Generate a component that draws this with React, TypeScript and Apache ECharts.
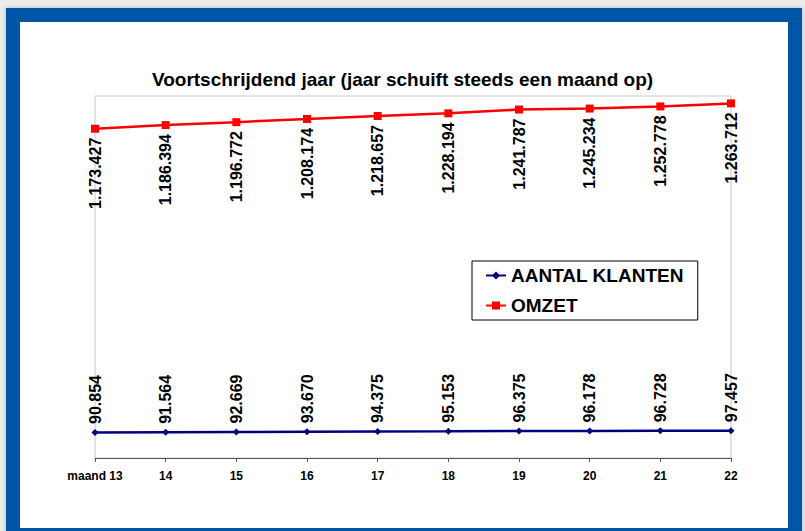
import React, { useEffect, useRef } from "react";
import * as echarts from "echarts";

const categories = ["maand 13", "14", "15", "16", "17", "18", "19", "20", "21", "22"];
const aantalKlanten = [90854, 91564, 92669, 93670, 94375, 95153, 96375, 96178, 96728, 97457];
const omzet = [1173427, 1186394, 1196772, 1208174, 1218657, 1228194, 1241787, 1245234, 1252778, 1263712];
const titleText = "Voortschrijdend jaar (jaar schuift steeds een maand op)";

const fmt = (v: number) => String(v).replace(/\B(?=(\d{3})+(?!\d))/g, ".");
const FONT = "Arial, 'Liberation Sans', sans-serif";

export default function App() {
  const ref = useRef<HTMLDivElement>(null);
  useEffect(() => {
    if (!ref.current) return;
    const chart = echarts.init(ref.current, null, { renderer: "svg" });
    chart.setOption({
      animation: false,
      title: {
        text: titleText,
        left: "center",
        top: 65,
        textStyle: { fontSize: 19, fontWeight: "bold", color: "#000", fontFamily: FONT },
      },
      legend: {
        orient: "vertical",
        left: 472,
        top: 261,
        padding: [5, 14, 5, 13],
        itemGap: 11,
        itemWidth: 20,
        itemHeight: 10,
        borderColor: "#000",
        borderWidth: 1,
        backgroundColor: "#fff",
        textStyle: { fontSize: 19, fontWeight: "bold", color: "#000", fontFamily: FONT },
        data: ["AANTAL KLANTEN", "OMZET"],
      },
      grid: {
        left: 95,
        right: 74,
        top: 96,
        bottom: 73,
        show: true,
        borderColor: "#c8c8c8",
        borderWidth: 1,
        backgroundColor: "transparent",
      },
      xAxis: {
        type: "category",
        data: categories,
        boundaryGap: false,
        axisLine: { lineStyle: { color: "#555", width: 1 } },
        axisTick: { show: true, interval: 0, length: 4, lineStyle: { color: "#555" } },
        axisLabel: {
          interval: 0,
          margin: 12,
          fontSize: 12,
          fontWeight: "bold",
          color: "#000",
          fontFamily: FONT,
        },
      },
      yAxis: { type: "value", min: 0, max: 1290000, show: false },
      series: [
        {
          name: "AANTAL KLANTEN",
          type: "line",
          data: aantalKlanten,
          symbol: "diamond",
          symbolSize: 7,
          lineStyle: { color: "#000080", width: 2.5 },
          itemStyle: { color: "#000080" },
          label: {
            show: true,
            position: "top",
            distance: 5,
            rotate: 90,
            align: "left",
            verticalAlign: "middle",
            fontSize: 16,
            fontWeight: "bold",
            color: "#000",
            fontFamily: FONT,
            formatter: (p: any) => fmt(p.value),
          },
        },
        {
          name: "OMZET",
          type: "line",
          data: omzet,
          symbol: "rect",
          symbolSize: 8,
          lineStyle: { color: "#ff0000", width: 2.5 },
          itemStyle: { color: "#ff0000" },
          label: {
            show: true,
            position: "bottom",
            distance: 5,
            rotate: 90,
            align: "right",
            verticalAlign: "middle",
            fontSize: 16,
            fontWeight: "bold",
            color: "#000",
            fontFamily: FONT,
            formatter: (p: any) => fmt(p.value),
          },
        },
      ],
    });
    return () => chart.dispose();
  }, []);

  return (
    <div style={{ position: "fixed", left: 0, top: 0, width: 805, height: 531, background: "#ececec", overflow: "hidden" }}>
      <div
        style={{
          position: "absolute",
          left: 6,
          top: 8,
          width: 796,
          height: 530,
          background: "#0056a6",
          boxShadow: "0 0 4px rgba(0,0,0,0.25)",
        }}
      />
      <div style={{ position: "absolute", left: 20, top: 22, width: 768, height: 506, background: "#fff" }} />
      <div ref={ref} style={{ position: "absolute", left: 0, top: 0, width: 805, height: 531 }} />
    </div>
  );
}
